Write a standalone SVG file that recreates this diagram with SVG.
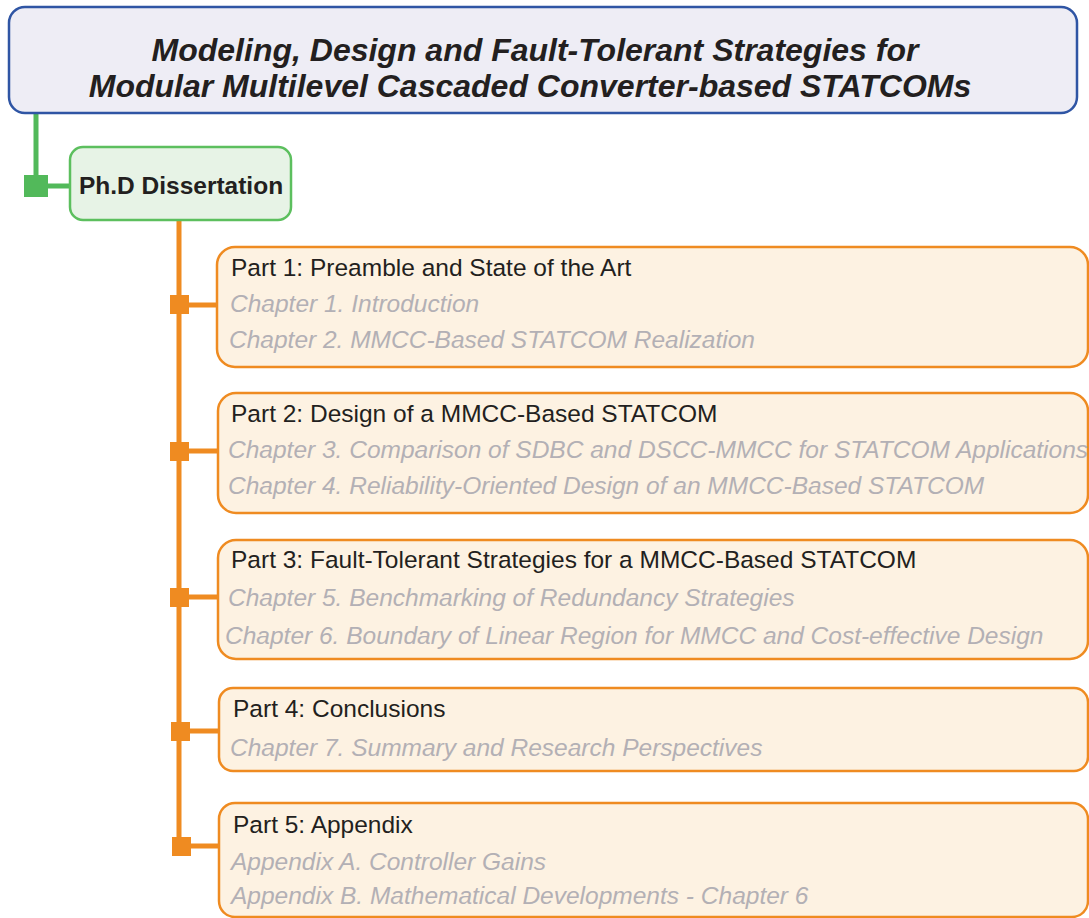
<svg xmlns="http://www.w3.org/2000/svg" width="1089" height="918" viewBox="0 0 1089 918">
<style>
.part{fill:#fdf2e2;stroke:#ef8b21;stroke-width:2.5}
.pt{font-family:"Liberation Sans",Arial,sans-serif;font-size:24.5px;fill:#231f20}
.ch{font-family:"Liberation Sans",Arial,sans-serif;font-size:24.5px;font-style:italic;fill:#b3b0b5}
.ol{stroke:#ef8b21;stroke-width:5;fill:none}
.osq{fill:#ef8b21}
</style>
<rect width="1089" height="918" fill="#ffffff"/>
<g id="connectors">
<path d="M36 113 V186 M36 186 H70" stroke="#52b95a" stroke-width="5" fill="none"/>
<rect x="24" y="175" width="24" height="22" fill="#52b95a"/>
<path class="ol" d="M179 220 V846"/>
<path class="ol" d="M179 305 H217 M179 451 H218 M179 597 H218 M179 731 H219 M179 846 H219"/>
<rect class="osq" x="170" y="295" width="19" height="19"/>
<rect class="osq" x="170" y="442" width="19" height="19"/>
<rect class="osq" x="170" y="588" width="19" height="19"/>
<rect class="osq" x="171" y="722" width="19" height="19"/>
<rect class="osq" x="172" y="837" width="19" height="19"/>
</g>
<g id="title">
<rect x="9" y="7" width="1068" height="106" rx="16" fill="#eeedf5" stroke="#2f55a4" stroke-width="2.5"/>
<text x="535" y="61" text-anchor="middle" font-family="Liberation Sans,Arial,sans-serif" font-size="32" font-weight="bold" font-style="italic" fill="#231f20">Modeling, Design and Fault-Tolerant Strategies for</text>
<text x="530" y="97" text-anchor="middle" font-family="Liberation Sans,Arial,sans-serif" font-size="32" font-weight="bold" font-style="italic" fill="#231f20">Modular Multilevel Cascaded Converter-based STATCOMs</text>
</g>
<g id="phd">
<rect x="70" y="147" width="221" height="73" rx="13" fill="#e7f3e6" stroke="#5cbf5e" stroke-width="2.5"/>
<text x="181" y="194" text-anchor="middle" font-family="Liberation Sans,Arial,sans-serif" font-size="24.5" font-weight="bold" fill="#231f20">Ph.D Dissertation</text>
</g>
<g id="part1">
<rect class="part" x="217" y="247" width="871" height="120" rx="18"/>
<text class="pt" x="231" y="276">Part 1: Preamble and State of the Art</text>
<text class="ch" x="230" y="312">Chapter 1. Introduction</text>
<text class="ch" x="229" y="348">Chapter 2. MMCC-Based STATCOM Realization</text>
</g>
<g id="part2">
<rect class="part" x="218" y="393" width="870" height="120" rx="18"/>
<text class="pt" x="231" y="422">Part 2: Design of a MMCC-Based STATCOM</text>
<text class="ch" x="228" y="458">Chapter 3. Comparison of SDBC and DSCC-MMCC for STATCOM Applications</text>
<text class="ch" x="228" y="494">Chapter 4. Reliability-Oriented Design of an MMCC-Based STATCOM</text>
</g>
<g id="part3">
<rect class="part" x="218" y="540" width="870" height="119" rx="18"/>
<text class="pt" x="231" y="568">Part 3: Fault-Tolerant Strategies for a MMCC-Based STATCOM</text>
<text class="ch" x="228" y="606">Chapter 5. Benchmarking of Redundancy Strategies</text>
<text class="ch" x="225" y="644">Chapter 6. Boundary of Linear Region for MMCC and Cost-effective Design</text>
</g>
<g id="part4">
<rect class="part" x="219" y="688" width="869" height="83" rx="14"/>
<text class="pt" x="233" y="717">Part 4: Conclusions</text>
<text class="ch" x="230" y="756">Chapter 7. Summary and Research Perspectives</text>
</g>
<g id="part5">
<rect class="part" x="219" y="803" width="869" height="114" rx="16"/>
<text class="pt" x="233" y="833">Part 5: Appendix</text>
<text class="ch" x="231" y="870">Appendix A. Controller Gains</text>
<text class="ch" x="231" y="904">Appendix B. Mathematical Developments - Chapter 6</text>
</g>
</svg>
